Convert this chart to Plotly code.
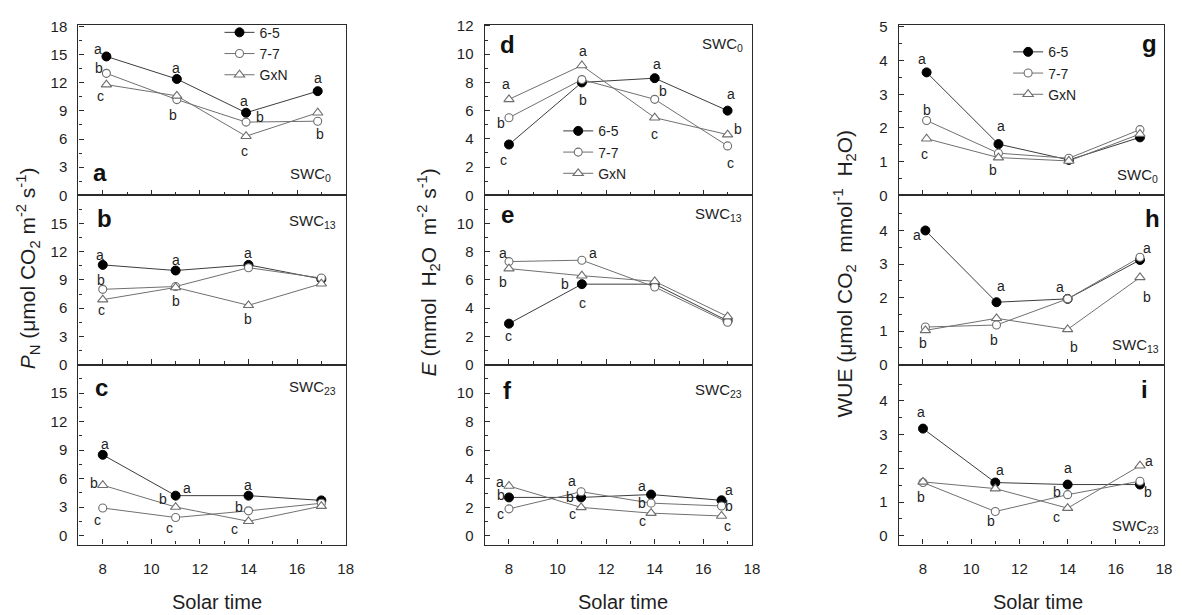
import plotly.graph_objects as go

W, H = 1182, 615
FONT = "Liberation Sans, Arial, sans-serif"

SERIES = ["6-5", "7-7", "GxN"]

# sampling hours (solar time) for each panel
hours = [8, 11, 14, 17]
hours_a = [8.15, 11.05, 13.9, 16.85]
hours_f = [8, 10.97, 13.85, 16.75]
hours_g = [8.15, 11.13, 14.05, 17]
hours_h = [8.1, 11.05, 14, 17]

# net photosynthetic rate P_N (umol CO2 m-2 s-1)
pn_swc0 = {"6-5": [14.8, 12.4, 8.8, 11.1], "7-7": [13.0, 10.2, 7.8, 7.9], "GxN": [11.8, 10.6, 6.3, 8.8]}
pn_swc13 = {"6-5": [10.6, 10.0, 10.6, 9.1], "7-7": [8.0, 8.3, 10.3, 9.2], "GxN": [6.9, 8.2, 6.3, 8.6]}
pn_swc23 = {"6-5": [8.5, 4.2, 4.2, 3.7], "7-7": [2.9, 1.9, 2.6, 3.4], "GxN": [5.3, 3.0, 1.5, 3.1]}

# transpiration rate E (mmol H2O m-2 s-1)
e_swc0 = {"6-5": [3.6, 8.0, 8.3, 6.0], "7-7": [5.5, 8.2, 6.8, 3.5], "GxN": [6.8, 9.2, 5.5, 4.3]}
e_swc13 = {"6-5": [2.9, 5.7, 5.7, 3.1], "7-7": [7.3, 7.4, 5.5, 3.0], "GxN": [6.8, 6.3, 5.9, 3.4]}
e_swc23 = {"6-5": [2.7, 2.7, 2.9, 2.5], "7-7": [1.9, 3.1, 2.3, 2.1], "GxN": [3.5, 2.0, 1.6, 1.4]}

# water use efficiency WUE (umol CO2 mmol-1 H2O)
wue_swc0 = {"6-5": [3.65, 1.52, 1.05, 1.72], "7-7": [2.22, 1.25, 1.1, 1.95], "GxN": [1.68, 1.12, 1.02, 1.82]}
wue_swc13 = {"6-5": [4.0, 1.86, 1.96, 3.12], "7-7": [1.12, 1.18, 1.96, 3.2], "GxN": [1.02, 1.38, 1.05, 2.6]}
wue_swc23 = {"6-5": [3.18, 1.58, 1.52, 1.52], "7-7": [1.58, 0.72, 1.22, 1.62], "GxN": [1.6, 1.4, 0.82, 2.08]}

# significance letters: (letter, series, point index, x shift px, y shift px)
sig_a = [("a", "6-5", 0, -8, 7), ("b", "7-7", 0, -7, 5), ("c", "GxN", 0, -6, -11),
         ("a", "6-5", 1, -1, 11), ("b", "7-7", 1, -4, -15),
         ("a", "6-5", 2, -2, 12), ("b", "7-7", 2, 14, 5), ("c", "GxN", 2, -2, -15),
         ("a", "6-5", 3, 0, 13), ("b", "7-7", 3, 2, -13)]
sig_b = [("a", "6-5", 0, -3, 10), ("b", "7-7", 0, -2, 9), ("c", "GxN", 0, -1, -10),
         ("a", "6-5", 1, 0, 11), ("b", "7-7", 1, 0, -14),
         ("a", "6-5", 2, 0, 12), ("b", "GxN", 2, 0, -14)]
sig_c = [("a", "6-5", 0, 2, 11), ("b", "GxN", 0, -9, 2), ("c", "7-7", 0, -5, -12),
         ("a", "6-5", 1, 11, 8), ("b", "GxN", 1, -13, 8), ("c", "7-7", 1, -6, -11),
         ("a", "6-5", 2, 0, 11), ("b", "7-7", 2, -9, 4), ("c", "GxN", 2, -14, -8)]
sig_d = [("a", "GxN", 0, -3, 15), ("b", "7-7", 0, -8, -5), ("c", "6-5", 0, -5, -15),
         ("a", "GxN", 1, 1, 14), ("b", "6-5", 1, 1, -18),
         ("a", "6-5", 2, 2, 14), ("b", "7-7", 2, 8, 8), ("c", "GxN", 2, 0, -16),
         ("a", "6-5", 3, 3, 17), ("b", "GxN", 3, 10, 6), ("c", "7-7", 3, 3, -17)]
sig_e = [("a", "7-7", 0, -6, 9), ("b", "GxN", 0, -6, -13), ("c", "6-5", 0, 0, -12),
         ("a", "7-7", 1, 11, 7), ("b", "GxN", 1, -17, -8), ("c", "6-5", 1, 1, -19)]
sig_f = [("a", "GxN", 0, -9, 4), ("b", "6-5", 0, -8, 2), ("c", "7-7", 0, -8, -5),
         ("a", "7-7", 1, -9, 11), ("b", "6-5", 1, -11, 0), ("c", "GxN", 1, -9, -7),
         ("a", "6-5", 2, -9, 9), ("b", "7-7", 2, -9, 0), ("c", "GxN", 2, -9, -8),
         ("a", "6-5", 3, 7, 10), ("b", "7-7", 3, 7, 0), ("c", "GxN", 3, 6, -10)]
sig_g = [("a", "6-5", 0, -5, 13), ("b", "7-7", 0, 0, 11), ("c", "GxN", 0, -2, -15),
         ("a", "6-5", 1, 3, 18), ("b", "GxN", 1, -5, -12)]
sig_h = [("a", "6-5", 0, -8, -5), ("b", "GxN", 0, -2, -13),
         ("a", "6-5", 1, 4, 16), ("b", "7-7", 1, -3, -15),
         ("a", "6-5", 2, -8, 12), ("b", "GxN", 2, 6, -18),
         ("a", "7-7", 3, 7, 9), ("b", "GxN", 3, 7, -20)]
sig_i = [("a", "6-5", 0, -2, 17), ("b", "GxN", 0, -2, -15),
         ("a", "6-5", 1, 5, 13), ("b", "7-7", 1, -4, -9),
         ("a", "6-5", 2, 0, 17), ("b", "7-7", 2, -11, 3), ("c", "GxN", 2, -11, -9),
         ("a", "GxN", 3, 9, 5), ("b", "6-5", 3, 8, -7)]

# ---- layout geometry (pixels on the 1182 x 615 page) ----
col_px = [(79, 348), (488, 757), (905, 1172)]
row_px = [(18, 193), (193, 366.5), (366.5, 551)]


def px_x(x):
    return x / W


def px_y(y):
    return 1 - y / H


STYLE = {
    "6-5": dict(symbol="circle", size=9, color="black", line=dict(color="black", width=1)),
    "7-7": dict(symbol="circle", size=8, color="white", line=dict(color="#6e6e6e", width=1.1)),
    "GxN": dict(symbol="triangle-up", size=9, color="white", line=dict(color="#6e6e6e", width=1.1)),
}
LINE = {"6-5": "#3c3c3c", "7-7": "#707070", "GxN": "#707070"}


def seq(a, b, step):
    out, v = [], a
    while v <= b + 1e-9:
        out.append(round(v, 3))
        v += step
    return out


# panel: (data, hours, sig, col, row, y range, major ticks, minor ticks, letter, swc, letter pos, swc pos)
panels = [
    (pn_swc0, hours_a, sig_a, 0, 0, [0, 18.2], seq(0, 18, 3), seq(1.5, 16.5, 3), "a", "SWC<sub>0</sub>", (101, 170), (313, 172)),
    (pn_swc13, hours, sig_b, 0, 1, [0, 18], seq(0, 15, 3), seq(1.5, 16.5, 3), "b", "SWC<sub>13</sub>", (105, 217), (315, 220)),
    (pn_swc23, hours, sig_c, 0, 2, [-0.95, 18], seq(0, 15, 3), seq(1.5, 16.5, 3), "c", "SWC<sub>23</sub>", (102, 390), (315, 390)),
    (e_swc0, hours, sig_d, 1, 0, [0, 12.1], seq(0, 12, 2), seq(1, 11, 2), "d", "SWC<sub>0</sub>", (511, 38), (727, 38)),
    (e_swc13, hours, sig_e, 1, 1, [0, 12], seq(0, 10, 2), seq(1, 11, 2), "e", "SWC<sub>13</sub>", (511, 213), (723, 213)),
    (e_swc23, hours_f, sig_f, 1, 2, [-0.6, 12], seq(0, 10, 2), seq(1, 11, 2), "f", "SWC<sub>23</sub>", (511, 393), (723, 393)),
    (wue_swc0, hours_g, sig_g, 2, 0, [0, 5.07], seq(0, 5, 1), seq(0.5, 4.5, 1), "g", "SWC<sub>0</sub>", (1157, 37), (1145, 173)),
    (wue_swc13, hours_h, sig_h, 2, 1, [0, 5.05], seq(0, 4, 1), seq(0.5, 4.5, 1), "h", "SWC<sub>13</sub>", (1160, 217), (1143, 347)),
    (wue_swc23, hours, sig_i, 2, 2, [-0.26, 5.08], seq(0, 4, 1), seq(0.5, 4.5, 1), "i", "SWC<sub>23</sub>", (1152, 392), (1143, 532)),
]

legend_names = ["legend", "legend2", "legend3"]

fig = go.Figure()
annotations = []
axis_common = dict(
    showline=True, mirror=True, linecolor="#2b2b2b", linewidth=1.4,
    ticks="inside", ticklen=5, tickwidth=1.2, tickcolor="#2b2b2b",
    showgrid=False, zeroline=False,
    tickfont=dict(family=FONT, size=15, color="#1e1e1e"),
)


def paper_text(x, y, text, size, **kw):
    return dict(x=px_x(x), y=px_y(y), xref="paper", yref="paper", text=text,
                showarrow=False, xanchor="center", yanchor="middle",
                font=dict(family=FONT, size=size, color=kw.pop("color", "#1e1e1e")), **kw)


for k, (data, hrs, sig, col, row, yr, major, minor, letter, swc, lpos, spos) in enumerate(panels, start=1):
    xa = "x" if k == 1 else f"x{k}"
    ya = "y" if k == 1 else f"y{k}"
    for name in SERIES:
        fig.add_trace(go.Scatter(
            x=hrs, y=data[name], name=name, mode="lines+markers",
            xaxis=xa, yaxis=ya,
            line=dict(color=LINE[name], width=1),
            marker=STYLE[name],
            legend=legend_names[col], showlegend=(row == 0),
        ))
    for txt, name, i, dx, dy in sig:
        annotations.append(dict(
            x=hrs[i], y=data[name][i], xref=xa, yref=ya, text=txt, showarrow=False,
            xanchor="center", yanchor="middle",
            xshift=dx, yshift=dy, font=dict(family=FONT, size=14, color="#1e1e1e"),
        ))
    # panel letter and soil water content tag
    annotations.append(paper_text(lpos[0], lpos[1], f"<b>{letter}</b>", 24, color="#111111"))
    annotations.append(paper_text(spos[0], spos[1], swc, 15))

    x0, x1 = col_px[col]
    y0, y1 = row_px[row]
    xkey = "xaxis" if k == 1 else f"xaxis{k}"
    ykey = "yaxis" if k == 1 else f"yaxis{k}"
    fig.update_layout(**{
        xkey: dict(axis_common, domain=[px_x(x0), px_x(x1)], range=[7, 18], anchor=ya,
                   tickmode="array", tickvals=seq(8, 18, 2), showticklabels=(row == 2),
                   ticklabelstandoff=10,
                   minor=dict(tickmode="array", tickvals=seq(9, 17, 2), ticks="inside",
                              ticklen=3, tickwidth=1, tickcolor="#2b2b2b")),
        ykey: dict(axis_common, domain=[px_y(y1), px_y(y0)], range=yr, anchor=xa,
                   tickmode="array", tickvals=major, ticklabelstandoff=7,
                   minor=dict(tickmode="array", tickvals=minor, ticks="inside",
                              ticklen=3, tickwidth=1, tickcolor="#2b2b2b")),
    })

# shared axis titles
ytitles = [
    ("<i>P</i><sub>N</sub> (μmol CO<sub>2</sub> m<sup>-2</sup> s<sup>-1</sup>)", 28, 268),
    ("<i>E</i> (mmol\u00a0 H<sub>2</sub>O\u00a0 m<sup>-2</sup> s<sup>-1</sup>)", 431, 272),
    ("WUE (μmol CO<sub>2</sub>\u00a0 mmol<sup>-1</sup>\u00a0 H<sub>2</sub>O)", 850, 273),
]
for txt, x, y in ytitles:
    annotations.append(paper_text(x, y, txt, 21, textangle=-90))
for x in (218, 627, 1045):
    annotations.append(paper_text(x, 610, "Solar time", 20))

legend_style = dict(xanchor="left", yanchor="top", bgcolor="rgba(0,0,0,0)",
                    font=dict(family=FONT, size=14, color="#1e1e1e"),
                    tracegroupgap=0, itemwidth=30, borderwidth=0)
fig.update_layout(
    width=W, height=H,
    margin=dict(l=0, r=0, t=0, b=0),
    paper_bgcolor="white", plot_bgcolor="white",
    annotations=annotations,
    legend=dict(legend_style, x=px_x(221), y=px_y(10)),
    legend2=dict(legend_style, x=px_x(562), y=px_y(111)),
    legend3=dict(legend_style, x=px_x(1015), y=px_y(30)),
)

fig.write_html("out.html")
